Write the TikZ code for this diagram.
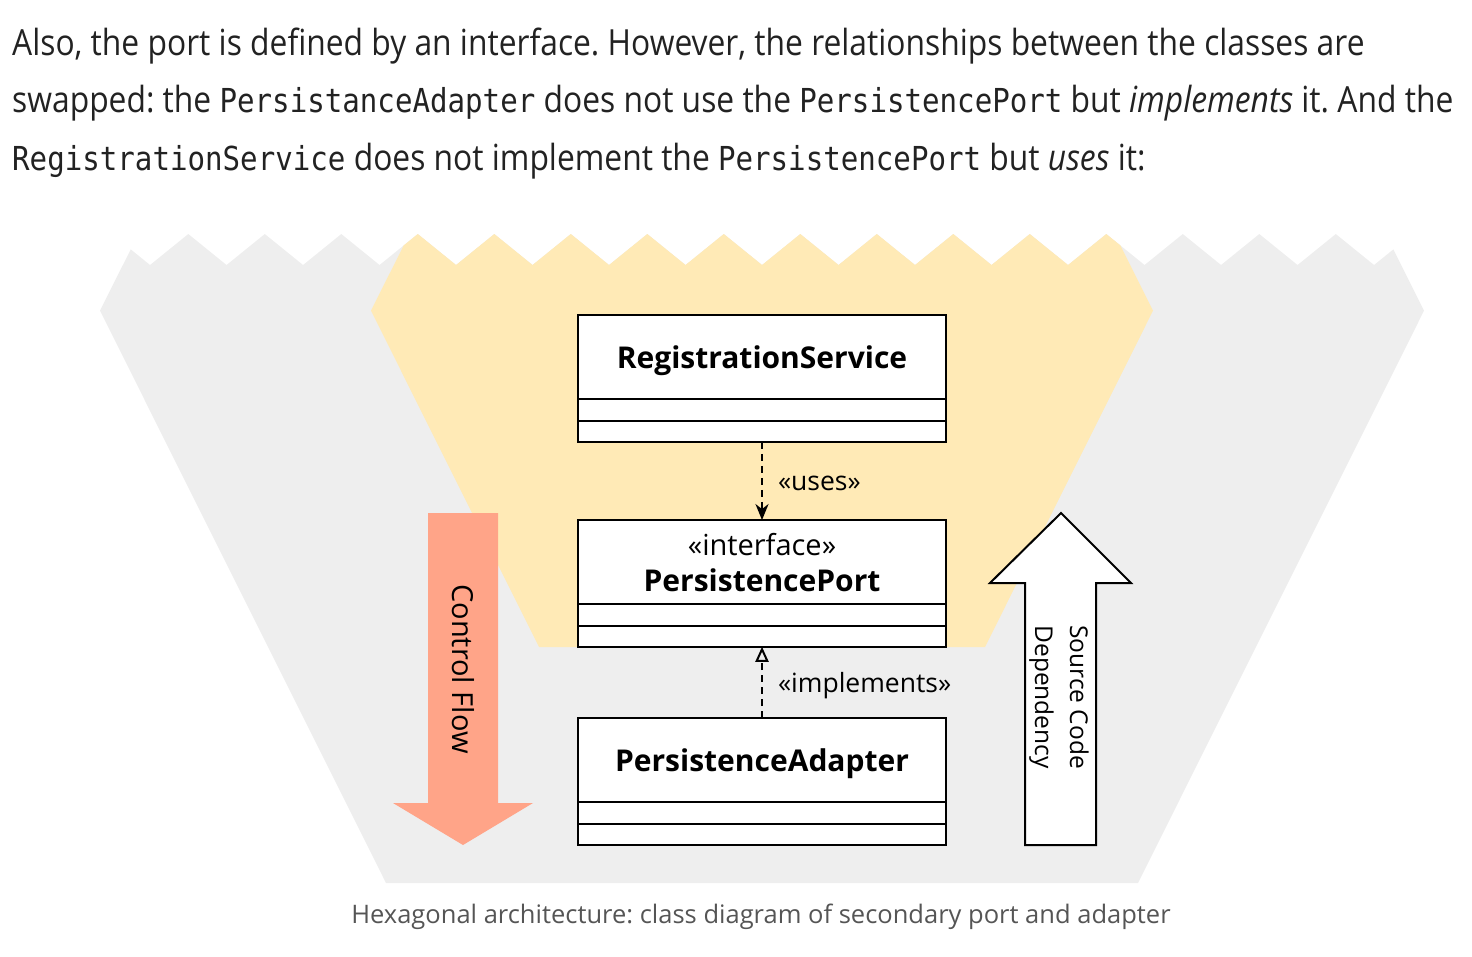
\documentclass[tikz,border=0pt]{standalone}
\usepackage{fontspec}
\setmainfont{Open Sans}
\setmonofont{DejaVu Sans Mono}
\usepackage{graphicx}
\usetikzlibrary{positioning,arrows.meta}

\definecolor{hexgrey}{HTML}{EEEEEE}
\definecolor{hexyellow}{HTML}{FFEAB6}
\definecolor{flowred}{HTML}{FFA488}
\definecolor{bodytext}{HTML}{222222}
\definecolor{captext}{HTML}{555555}

\frenchspacing
\newcommand{\narrow}[1]{\scalebox{0.883}[1]{#1}}
\newcommand{\codefont}{\fontsize{33}{33}\ttfamily}

\tikzset{
  classname/.style={draw, fill=white, line width=2pt, outer sep=0pt, inner sep=0pt,
    minimum width=368pt, minimum height=84.3pt, align=center, text depth=0pt,
    font=\fontsize{30}{36}\selectfont},
  classpart/.style={draw, fill=white, line width=2pt, outer sep=0pt, inner sep=0pt,
    minimum width=368pt, minimum height=21.2pt},
  depline/.style={line width=2pt, dash pattern=on 7pt off 5pt},
  deplabel/.style={inner sep=0pt, yshift=-3pt, font=\fontsize{26.5}{26.5}\selectfont},
  bodyline/.style={anchor=base west, inner sep=0pt, text=bodytext, font=\fontsize{36}{36}\selectfont},
}

\begin{document}
\begin{tikzpicture}[x=1pt, y=-1pt]
  \useasboundingbox (0,0) rectangle (1472,956);

  % text above the figure
  \node[bodyline] (para1) at (12,55) {\narrow{Also, the port is defined by an interface. However, the relationships between the classes are}};
  \node[bodyline] (para2) at (12,112) {\narrow{swapped: the {\codefont PersistanceAdapter} does not use the {\codefont PersistencePort} but \emph{implements} it. And the}};
  \node[bodyline] (para3) at (12,170) {\narrow{{\codefont RegistrationService} does not implement the {\codefont PersistencePort} but \emph{uses} it:}};

  % hexagons with zigzag top
  \begin{scope}
    \clip (60,900) -- (60,234) \foreach \k in {0,...,17} { -- ({111.8+76.5*\k},234) -- ({150.05+76.5*\k},265) } -- (1480,234) -- (1480,900) -- cycle;
    \fill[hexgrey] (100,310.7) -- (386,883) -- (1138,883) -- (1424,310.7) -- (1368.6,200) -- (155.4,200) -- cycle;
    \fill[hexyellow] (371,310.7) -- (539,647) -- (985,647) -- (1153,310.7) -- (1097.6,200) -- (426.4,200) -- cycle;
  \end{scope}

  % big arrows
  \fill[flowred] (428,513) -- (498,513) -- (498,803) -- (533,803) -- (463,845) -- (393,803) -- (428,803) -- cycle;
  \node[rotate=-90, font=\fontsize{29}{29}\selectfont] (flowtext) at (463,669) {Control Flow};
  \draw[line width=2pt, fill=white] (1025,845) -- (1025,583) -- (990,583) -- (1061,513) -- (1131,583) -- (1096,583) -- (1096,845) -- cycle;
  \node[rotate=-90, align=center, font=\fontsize{24.5}{35}\selectfont] (deptext) at (1059,697) {Source Code\\Dependency};

  % classes
  \node[classname] (regname) at (762,357.2) {\bfseries RegistrationService};
  \node[classpart, below=0pt of regname] (regattr) {};
  \node[classpart, below=0pt of regattr] (regops) {};

  \node[classname] (portname) at (762,562.2) {{\fontsize{29}{36}\selectfont «interface»}\\\bfseries PersistencePort};
  \node[classpart, below=0pt of portname] (portattr) {};
  \node[classpart, below=0pt of portattr] (portops) {};

  \node[classname] (adaptname) at (762,760.2) {\bfseries PersistenceAdapter};
  \node[classpart, below=0pt of adaptname] (adaptattr) {};
  \node[classpart, below=0pt of adaptattr] (adaptops) {};

  % dependencies
  \draw[depline, -{Stealth[length=16pt,width=13pt,inset=5pt]}] (regops.south) -- node[deplabel, right=15pt] (useslbl) {«uses»} (portname.north);
  \draw[depline, -{Triangle[open,length=15pt,width=13pt]}] (adaptname.north) -- node[deplabel, right=15pt] (impllbl) {«implements»} (portops.south);

  \node[anchor=base, text=captext, font=\fontsize{25.5}{25.5}\selectfont] (caption) at (761,923) {Hexagonal architecture: class diagram of secondary port and adapter};
\end{tikzpicture}
\end{document}
